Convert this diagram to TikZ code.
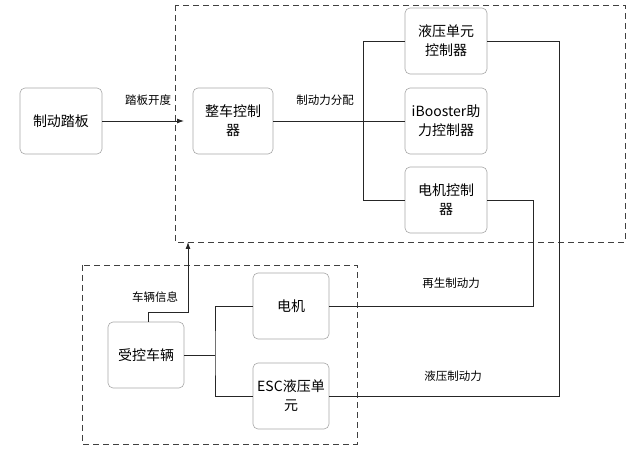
\documentclass[tikz,border=0pt]{standalone}
\usepackage{fontspec}
\setmainfont{Noto Sans CJK SC}
\usetikzlibrary{arrows.meta}
\begin{document}
\begin{tikzpicture}[x=1pt,y=-1pt,
  box/.style={draw=gray!70,rounded corners=5pt,minimum width=80pt,minimum height=66pt,align=center,font=\fontsize{14}{19}\selectfont,inner sep=1pt,line width=0.6pt},
  ln/.style={draw=black!85,line width=0.9pt},
  lab/.style={font=\fontsize{11.5}{13}\selectfont},
  dbox/.style={draw=black!75,dashed,dash pattern=on 6pt off 4pt,line width=0.9pt}]
\useasboundingbox (0,0) rectangle (641,449);
\draw[dbox] (175,5) rectangle (625,242);
\draw[dbox] (82,265) rectangle (357,444);
\node[box,minimum width=82pt] (pedal) at (61,121) {制动踏板};
\node[box] (vcu) at (233,121) {整车控制\\器};
\node[box,minimum width=82pt] (hcu) at (446,41) {液压单元\\控制器};
\node[box,minimum width=82pt] (ib) at (446,121) {iBooster助\\力控制器};
\node[box,minimum width=82pt] (mcu) at (446,200) {电机控制\\器};
\node[box,minimum width=76pt] (veh) at (146,355) {受控车辆};
\node[box,minimum width=76pt] (mot) at (291,306) {电机};
\node[box,minimum width=76pt] (esc) at (291,396) {ESC液压单\\元};
\coordinate (in) at (184,121);
\draw[ln,-{Latex[length=7pt,width=5pt]}] (pedal.east) -- (in);
\node[lab] (l1) at (148,100) {踏板开度};
\draw[ln] (vcu.east) -- (ib.west);
\node[lab] (l2) at (325,100) {制动力分配};
\coordinate (bt) at (363,41);
\coordinate (bb) at (363,200);
\draw[ln] (hcu.west) -| (bt) -- (bb) -- (mcu.west);
\coordinate (r1) at (559,41);
\coordinate (r2) at (533,200);
\draw[ln] (hcu.east) -- (r1) |- (esc.east);
\draw[ln] (mcu.east) -- (r2) |- (mot.east);
\node[lab] (l3) at (451,283) {再生制动力};
\node[lab] (l4) at (453,376) {液压制动力};
\coordinate (j) at (215,355);
\draw[ln] (veh.east) -- (j);
\draw[ln] (mot.west) -| (j) |- (esc.west);
\coordinate (a1) at (148,312);
\coordinate (a2) at (188,312);
\coordinate (a3) at (188,242);
\draw[ln,-{Latex[length=7pt,width=5pt]}] (veh.north -| a1) -- (a1) -- (a2) -- (a3);
\node[lab] (l5) at (155,297) {车辆信息};
\end{tikzpicture}
\end{document}
